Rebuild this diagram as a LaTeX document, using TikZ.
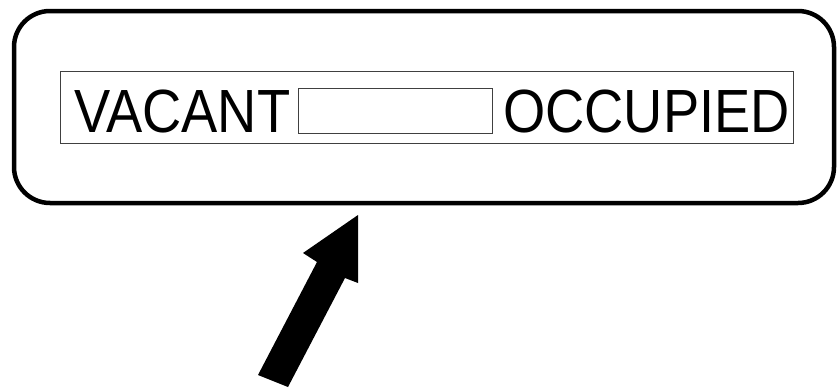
\documentclass[tikz,border=0pt]{standalone}
\usepackage{fontspec}
\setmainfont{Liberation Sans}
\usetikzlibrary{positioning}

\begin{document}
\begin{tikzpicture}[x=1pt,y=-1pt]
    \useasboundingbox (0,0) rectangle (838,388);
    \tikzset{
        signword/.style={inner sep=0pt, anchor=base west, xscale=0.89, transform shape,
            font=\fontsize{61}{61}\selectfont},
        thinframe/.style={draw=black!75, line width=0.9pt}
    }
    \coordinate (SW) at (14,203);
    \coordinate (NE) at (834,11);

    % outer sign
    \draw [line width=4.5pt, rounded corners=36pt] (SW) rectangle (NE);

    % inner panel
    \draw [thinframe] (60,71) rectangle (793,143);
    \node [signword] (vac) at (74,132) {VACANT};
    \node [signword] (occ) at (503,132) {OCCUPIED};
    \draw [thinframe] (298,88) rectangle (492,133);

    % pointer
    \fill (258,375) -- (317,262) -- (303,253) -- (358,215)
        -- (358,283) -- (345,278) -- (288,387) -- cycle;
\end{tikzpicture}
\end{document}
